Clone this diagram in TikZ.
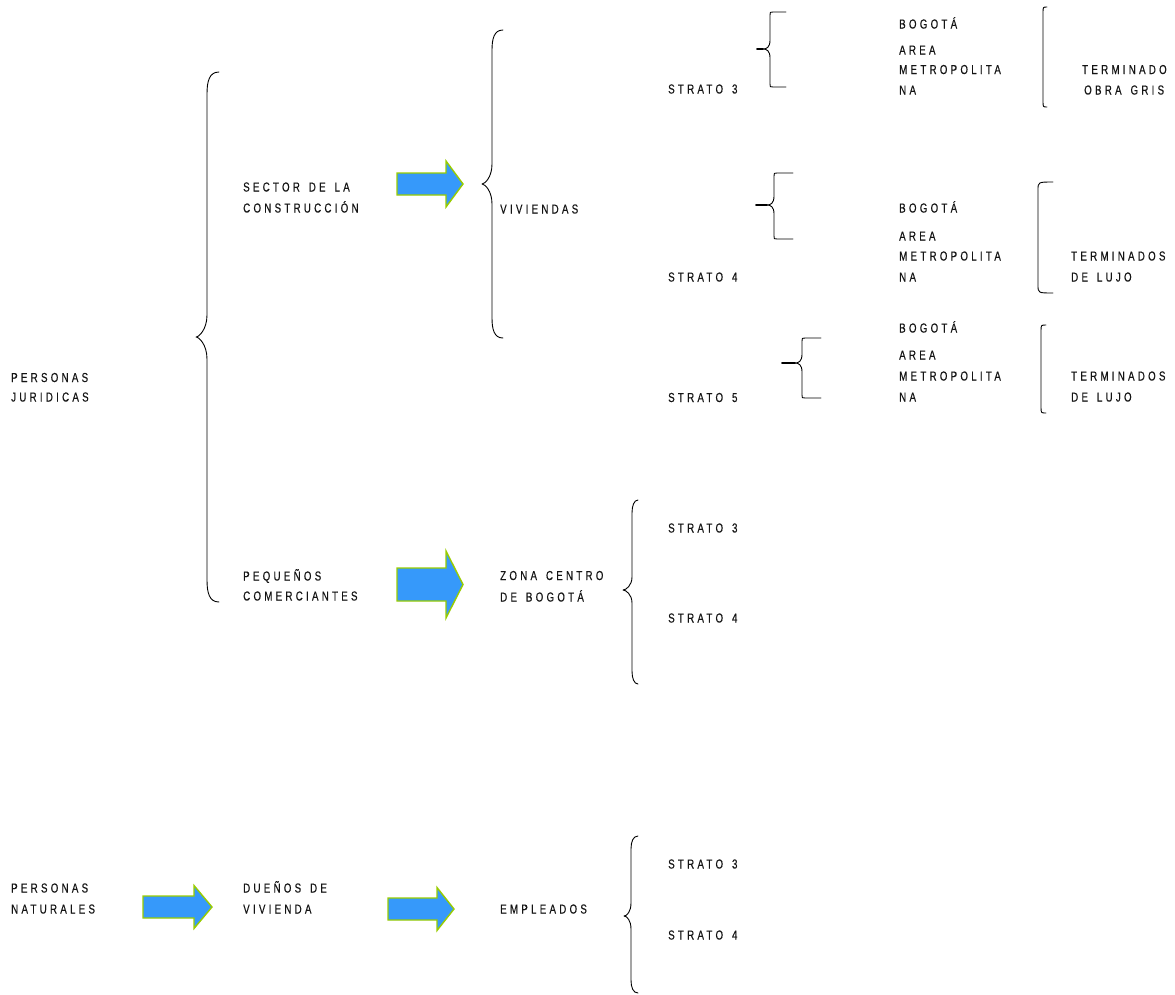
\documentclass[tikz,border=0pt]{standalone}
\usepackage{fontspec}
\newfontfamily\lblfont{Liberation Sans}[FakeStretch=0.75,LetterSpace=25,WordSpace=1.5,FakeBold=0.4]
\definecolor{arrowblue}{RGB}{54,153,250}
\definecolor{arrowgreen}{RGB}{153,204,0}

% curly brace opening to the right: xv, xend, xtip, ytop, ytip, ybot, curl length
\newcommand{\leftcurly}[7]{%
  \draw[brace] (#2,#4) .. controls (#1+2,#4) and (#1,#4+0.45*#7) .. (#1,#4+#7)
    -- (#1,#5-#7) .. controls (#1,#5-0.35*#7) and (#3+3,#5) .. (#3,#5)
    .. controls (#3+3,#5) and (#1,#5+0.35*#7) .. (#1,#5+#7)
    -- (#1,#6-#7) .. controls (#1,#6-0.45*#7) and (#1+2,#6) .. (#2,#6);}

% small brace with flat ends: xv, xend, xtip, ytop, ytip, ybot
\newcommand{\flatcurly}[6]{%
  \draw[brace] (#2,#4) -- (#1+3,#4) .. controls (#1,#4) .. (#1,#4+3)
    -- (#1,#5-9) .. controls (#1,#5-2) and (#1-3,#5) .. (#1-7,#5) -- (#3,#5)
    -- (#1-7,#5) .. controls (#1-3,#5) and (#1,#5+2) .. (#1,#5+9)
    -- (#1,#6-3) .. controls (#1,#6) .. (#1+3,#6) -- (#2,#6);
  \draw[brace, line width=1.6pt] (#3,#5) -- (#1-7,#5);}

% tall round bracket: xv, xend, ytop, ybot, corner
\newcommand{\roundbracket}[5]{%
  \draw[brace] (#2,#3) .. controls (#1,#3) .. (#1,#3+#5)
    -- (#1,#4-#5) .. controls (#1,#4) .. (#2,#4);}

% block arrow: x0, ycentre, shaft length, total length, shaft half width, head half width
\newcommand{\blockarrowshape}[6]{%
  \draw[blockarrow] (#1,#2-#5) -- (#1+#3,#2-#5) -- (#1+#3,#2-#6) -- (#1+#4,#2)
    -- (#1+#3,#2+#6) -- (#1+#3,#2+#5) -- (#1,#2+#5) -- cycle;}

\begin{document}
\begin{tikzpicture}[x=1pt,y=-1pt,
  lbl/.style={anchor=base west, inner sep=0pt, text=black!92,
    font={\lblfont\fontsize{13}{15}\selectfont}},
  brace/.style={draw=black, line width=0.9pt, line cap=round, line join=round},
  blockarrow/.style={fill=arrowblue, draw=arrowgreen, line width=1.4pt, line join=miter}]
\useasboundingbox (0,0) rectangle (1175,994);

% ---- first column
\node[lbl] (pj1) at (11,382) {PERSONAS};
\node[lbl] (pj2) at (11,401.5) {JURIDICAS};
\node[lbl] (pn1) at (11,892.5) {PERSONAS};
\node[lbl] (pn2) at (11,913.5) {NATURALES};

% ---- second column
\node[lbl] (sc1) at (243,191.5) {SECTOR DE LA};
\node[lbl] (sc2) at (243,212.5) {CONSTRUCCIÓN};
\node[lbl] (pc1) at (243,580.5) {PEQUEÑOS};
\node[lbl] (pc2) at (243,600.5) {COMERCIANTES};
\node[lbl] (dv1) at (243,892.5) {DUEÑOS DE};
\node[lbl] (dv2) at (243,913.5) {VIVIENDA};

% ---- third column
\node[lbl] (viv) at (500,213.5) {VIVIENDAS};
\node[lbl] (zc1) at (500,580) {ZONA CENTRO};
\node[lbl] (zc2) at (500,601.5) {DE BOGOTÁ};
\node[lbl] (emp) at (500,913.5) {EMPLEADOS};

% ---- strata
\node[lbl] (sa3) at (668,93.5) {STRATO 3};
\node[lbl] (sa4) at (668,281.5) {STRATO 4};
\node[lbl] (sa5) at (668,402) {STRATO 5};
\node[lbl] (sb3) at (668,532.5) {STRATO 3};
\node[lbl] (sb4) at (668,622.5) {STRATO 4};
\node[lbl] (sc3) at (668,868.5) {STRATO 3};
\node[lbl] (sc4) at (668,939.5) {STRATO 4};

% ---- locations
\node[lbl] (ga1) at (899,28.5) {BOGOTÁ};
\node[lbl] (ga2) at (899,54.5) {AREA};
\node[lbl] (ga3) at (899,74) {METROPOLITA};
\node[lbl] (ga4) at (899,94.5) {NA};
\node[lbl] (gb1) at (899,212.5) {BOGOTÁ};
\node[lbl] (gb2) at (899,240.5) {AREA};
\node[lbl] (gb3) at (899,260.5) {METROPOLITA};
\node[lbl] (gb4) at (899,281.5) {NA};
\node[lbl] (gc1) at (899,332.5) {BOGOTÁ};
\node[lbl] (gc2) at (899,359.5) {AREA};
\node[lbl] (gc3) at (899,380.5) {METROPOLITA};
\node[lbl] (gc4) at (899,401.5) {NA};

% ---- finishes
\node[lbl] (ta1) at (1082,74) {TERMINADO};
\node[lbl] (ta2) at (1084,94.5) {OBRA GRIS};
\node[lbl] (tb1) at (1071,260.5) {TERMINADOS};
\node[lbl] (tb2) at (1071,281.5) {DE LUJO};
\node[lbl] (tc1) at (1071,380.5) {TERMINADOS};
\node[lbl] (tc2) at (1071,401.5) {DE LUJO};

% ---- braces
\leftcurly{207}{219}{196}{72}{337}{602}{22}
\leftcurly{492}{503}{482}{30}{184}{338}{20}
\leftcurly{632}{638}{623}{500}{590}{684}{13}
\leftcurly{631}{638}{624}{836}{916}{993}{13}
\flatcurly{770}{786}{757}{12}{49}{87}
\flatcurly{774}{793}{756}{173}{205}{239}
\flatcurly{802}{821}{782}{338}{363}{398}
\roundbracket{1043}{1047}{7}{107}{6}
\roundbracket{1038}{1053}{182}{293}{8}
\roundbracket{1041}{1046}{325}{413}{6}

% ---- block arrows
\blockarrowshape{397}{184}{49}{66}{11}{23}
\blockarrowshape{397}{584.5}{49}{66}{16.5}{33.5}
\blockarrowshape{143}{907}{51}{69}{11}{21.5}
\blockarrowshape{388}{909}{49}{66}{11}{21.5}
\end{tikzpicture}
\end{document}
